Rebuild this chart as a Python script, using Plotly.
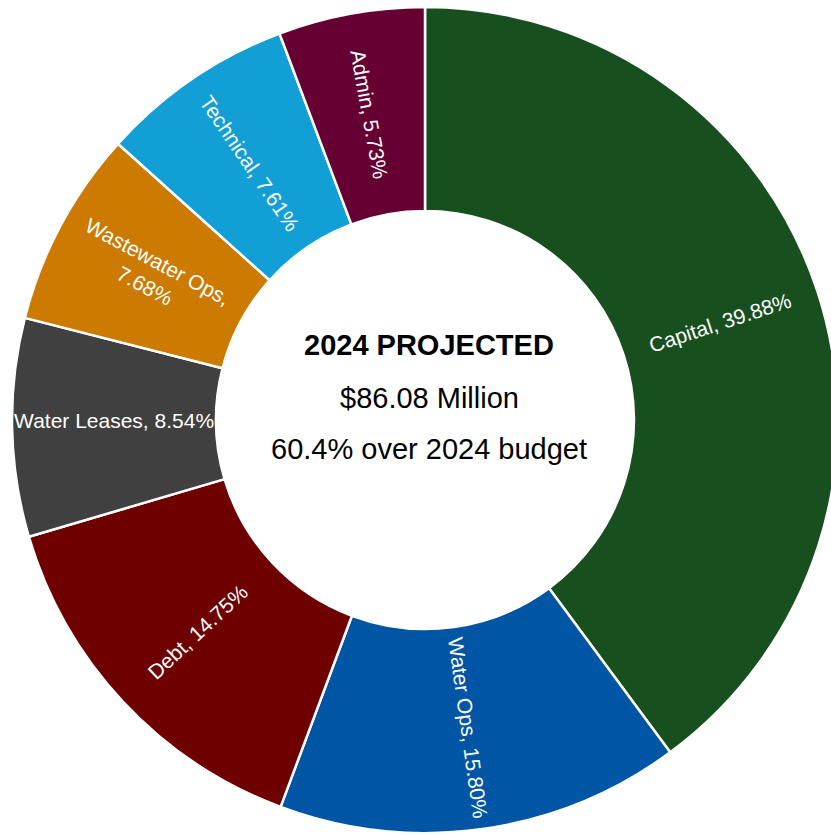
import math
import plotly.graph_objects as go

# Budget share by category (percent of total), clockwise from 12 o'clock
categories = ["Capital", "Water Ops", "Debt", "Water Leases",
              "Wastewater Ops", "Technical", "Admin"]
shares = [39.88, 15.80, 14.75, 8.54, 7.68, 7.61, 5.73]
colors = ["#17501E", "#0055A4", "#6E0000", "#404040",
          "#CC7A00", "#119FD6", "#660033"]

center_title = "2024 PROJECTED"
center_total = "$86.08 Million"
center_note = "60.4% over 2024 budget"

W, H = 839, 835
HOLE = 0.506
LABEL_FONT = dict(family="Liberation Sans, Arial, sans-serif", size=21, color="white")

# Pie geometry in pixels (domain is square, so radius = half its size)
dom_x = [12 / W, 838 / W]
dom_y = [2 / H, 828 / H]
cx = (dom_x[0] + dom_x[1]) / 2 * W
cy = (1 - (dom_y[0] + dom_y[1]) / 2) * H
r_out = (dom_x[1] - dom_x[0]) * W / 2
r_mid = r_out * (1 + HOLE) / 2

# The big Capital slice is labelled separately so its text follows the radius;
# Wastewater Ops wraps onto two lines
own_label = {"Capital"}
templates = []
for c in categories:
    if c in own_label:
        templates.append("")
    elif c == "Wastewater Ops":
        templates.append("%{label},<br>%{value:.2f}%")
    else:
        templates.append("%{label}, %{value:.2f}%")

fig = go.Figure(go.Pie(
    labels=categories,
    values=shares,
    marker=dict(colors=colors, line=dict(color="white", width=2.5)),
    hole=HOLE,
    sort=False,
    direction="clockwise",
    rotation=0,
    texttemplate=templates,
    textposition="inside",
    insidetextorientation="radial",
    textfont=LABEL_FONT,
    showlegend=False,
    hoverinfo="label+percent",
    domain=dict(x=dom_x, y=dom_y),
))

total = sum(shares)
cum = 0.0
for c, v in zip(categories, shares):
    mid = (cum + v / 2) / total * 2 * math.pi
    cum += v
    if c not in own_label:
        continue
    px = cx + r_mid * math.sin(mid)
    py = cy - r_mid * math.cos(mid)
    deg = math.degrees(mid)
    angle = deg - 90 if deg <= 180 else deg - 270
    fig.add_annotation(
        x=px / W, y=1 - py / H, xref="paper", yref="paper",
        xanchor="center", yanchor="middle", showarrow=False,
        text=f"{c}, {v:.2f}%", textangle=angle, font=LABEL_FONT,
    )

font_c = dict(family="Liberation Sans, Arial, sans-serif", size=29, color="black")
for txt, ypix, bold in [(center_title, 345, True), (center_total, 398, False),
                        (center_note, 449, False)]:
    fig.add_annotation(
        x=429 / W, y=1 - ypix / H, xref="paper", yref="paper",
        xanchor="center", yanchor="middle", showarrow=False,
        text=f"<b>{txt}</b>" if bold else txt, font=font_c,
    )

fig.update_layout(
    width=W, height=H,
    margin=dict(l=0, r=0, t=0, b=0),
    paper_bgcolor="white",
    plot_bgcolor="white",
)

fig.write_html("out.html", config={"displayModeBar": False},
               post_script="document.body.style.overflow='hidden';")
